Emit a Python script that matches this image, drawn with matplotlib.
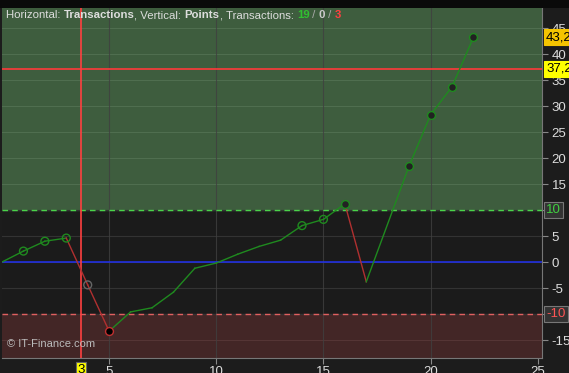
import numpy as np
import matplotlib
matplotlib.use('Agg')
import matplotlib.pyplot as plt
from matplotlib.patches import Rectangle

plt.rcParams['font.family'] = ['Liberation Sans', 'DejaVu Sans']

# data
xs = [0, 1, 2, 3, 4, 5, 6, 7, 8, 9, 10, 11, 12, 13, 14, 15, 16, 17, 19, 20, 21, 22]
ys = [0.0, 2.1, 4.0, 4.6, -4.4, -13.3, -9.6, -8.8, -5.8, -1.2, -0.2, 1.5, 3.0, 4.2,
      7.0, 8.2, 11.2, -3.8, 18.5, 28.3, 33.7, 43.2]
upper_level = 10
lower_level = -10
mark_level = 37.2
last_value = 43.2
cursor_x = 3.68
x_ticks = [5, 10, 15, 20, 25]
y_ticks = [45, 40, 35, 30, 25, 20, 15, 10, 5, 0, -5, -10, -15]
counts = ['19', '0', '3']

fig = plt.figure(figsize=(5.69, 3.73), dpi=100, facecolor='#1c1c1c')
ax = fig.add_axes([2/569, 15/373, 540/569, 350/373])
ax.set_facecolor('#1b1b1b')
ax.set_xlim(0, 25.2)
ax.set_ylim(-18.46, 48.85)

# zones
ax.axhspan(upper_level, 60, color='#3e5d3e', zorder=0)
ax.axhspan(-30, lower_level, color='#432626', zorder=0)

# grid
for t in y_ticks:
    c = '#4f6e4f' if t > upper_level else ('#553535' if t < lower_level else '#333333')
    ax.axhline(t, color=c, lw=0.8, zorder=1)
for t in x_ticks[:-1]:
    ax.axvline(t, color='#404040', lw=0.8, zorder=1, alpha=0.8)

ax.axhline(upper_level, color='#4ad34a', lw=1.0, ls=(0, (4, 3)), zorder=2)
ax.axhline(lower_level, color='#e06060', lw=1.0, ls=(0, (4, 3)), zorder=2)
ax.axhline(0, color='#2030f0', lw=1.1, zorder=2)
ax.axhline(mark_level, color='#ff3a3a', lw=1.2, zorder=2)
ax.axvline(cursor_x, color='#ff4040', lw=1.2, zorder=2)

# line segments coloured by direction
for i in range(len(xs) - 1):
    col = '#1f8a1f' if ys[i+1] >= ys[i] else '#b03030'
    ax.plot(xs[i:i+2], ys[i:i+2], color=col, lw=1.0, zorder=3)

# markers
hollow = [1, 2, 3, 14, 15]
filled = [16, 18, 19, 20, 21]
ax.scatter([xs[i] for i in hollow], [ys[i] for i in hollow], s=32, facecolors='none',
           edgecolors='#1f8a1f', linewidths=1.0, zorder=4)
ax.scatter([xs[i] for i in filled], [ys[i] for i in filled], s=32, facecolors='#222222',
           edgecolors='#1f8a1f', linewidths=1.0, zorder=4)
ax.scatter([xs[4]], [ys[4]], s=32, facecolors='none', edgecolors='#666666', linewidths=1.0, zorder=4)
ax.scatter([xs[5]], [ys[5]], s=32, facecolors='#000000', edgecolors='#c03030', linewidths=1.0, zorder=4)

# axes styling
for s in ['top', 'left']:
    ax.spines[s].set_visible(False)
ax.spines['right'].set_color('#777777')
ax.spines['bottom'].set_color('#777777')
ax.yaxis.tick_right()
ax.set_yticks(y_ticks)
ax.set_yticklabels([str(t) for t in y_ticks])
ax.set_xticks(x_ticks)
ax.tick_params(colors='#dddddd', labelsize=9.5, length=4, width=0.8)
ax.tick_params(axis='y', color='#888888', pad=3)
ax.tick_params(axis='x', color='#888888', pad=2)
for lbl in ax.get_yticklabels():
    if lbl.get_text() in ('10', '-10'):
        lbl.set_alpha(0)

# value boxes on right axis
def right_box(y, text, fc, tc, ec):
    ax.annotate(text, xy=(1, y), xycoords=('axes fraction', 'data'), xytext=(3, 0),
                textcoords='offset points', va='center', ha='left', fontsize=9.5, color=tc,
                bbox=dict(boxstyle='square,pad=0.15', fc=fc, ec=ec, lw=0.8), zorder=10,
                annotation_clip=False)

right_box(last_value, '43,2', '#f5c400', '#000000', '#f5c400')
right_box(mark_level, '37,2', '#ffff00', '#000000', '#ffff00')
right_box(upper_level, '10', '#333333', '#40d040', '#777777')
right_box(lower_level, '-10', '#333333', '#ff5555', '#777777')

ax.annotate('3', xy=(cursor_x, 0), xycoords=('data', 'axes fraction'), xytext=(0, -4),
            textcoords='offset points', va='top', ha='center', fontsize=9.5, color='#000000',
            bbox=dict(boxstyle='square,pad=0.12', fc='#ffff00', ec='#666666', lw=0.8),
            annotation_clip=False)

# watermark
ax.text(5/540, 9/350, '\u00a9 IT-Finance.com', transform=ax.transAxes, fontsize=8,
        color='#bbbbbb', va='bottom', ha='left', zorder=6)

# top strip
fig.patches.append(Rectangle((0, 365/373), 1, 8/373, transform=fig.transFigure,
                             fc='#0a0a0a', ec='none'))

# header text made of coloured pieces
pieces = [('Horizontal: ', 'normal', '#dddddd'), ('Transactions', 'bold', '#dddddd'),
          (', Vertical: ', 'normal', '#dddddd'), ('Points', 'bold', '#dddddd'),
          (', Transactions: ', 'normal', '#dddddd'), (counts[0], 'bold', '#30c030'),
          (' / ', 'normal', '#aaaaaa'), (counts[1], 'bold', '#cccccc'),
          (' / ', 'normal', '#aaaaaa'), (counts[2], 'bold', '#ff4040')]
renderer = fig.canvas.get_renderer()
xpix = 6
for txt, w, c in pieces:
    t = fig.text(xpix / 569, 1 - 15 / 373, txt, fontsize=8.2, fontweight=w, color=c,
                 va='center', ha='left')
    bb = t.get_window_extent(renderer=renderer)
    xpix += bb.width

fig.savefig('out.png', dpi=100, facecolor=fig.get_facecolor())
